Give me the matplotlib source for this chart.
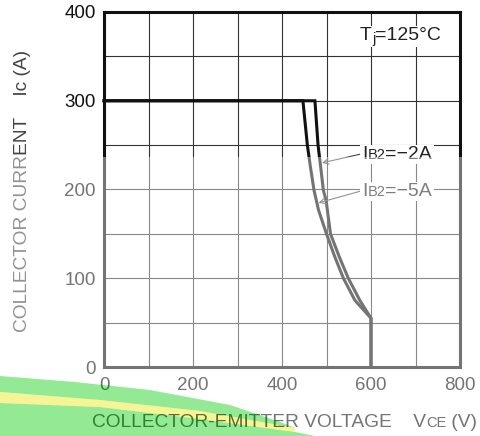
import matplotlib
matplotlib.use("Agg")
import matplotlib.pyplot as plt
from matplotlib.patches import Rectangle, Polygon

plt.rcParams['font.family'] = ['Liberation Sans', 'DejaVu Sans']

# curves
vce_2a = [0, 474, 481, 487, 493, 499, 509, 528, 549, 575, 600, 600]
ic_2a = [300, 300, 250, 225, 199, 188, 150, 125, 100, 75, 55, 0]
vce_5a = [0, 447, 457, 464, 472, 482, 500, 518, 538, 564, 600, 600]
ic_5a = [300, 300, 250, 225, 199, 177, 150, 125, 100, 75, 55, 0]
x_ticks = [0, 200, 400, 600, 800]
y_ticks = [0, 100, 200, 300, 400]

W, H = 480, 436
fig = plt.figure(figsize=(W / 100, H / 100), dpi=100)
ax = fig.add_axes([104 / W, 1 - 367 / H, 356 / W, 355 / H])
ax.set_xlim(0, 800)
ax.set_ylim(0, 400)
ax.set_xticks(x_ticks)
ax.set_yticks(y_ticks)
ax.set_xticks(range(100, 800, 200), minor=True)
ax.set_yticks(range(50, 400, 50), minor=True)
ax.tick_params(which='both', length=0, labelsize=13.5, colors='#111')
ax.tick_params(axis='x', pad=7)
ax.tick_params(axis='y', pad=6)
ax.grid(True, which='both', color='#333', lw=0.8)
for s in ax.spines.values():
    s.set_linewidth(2.2)
    s.set_color('#111')

ax.plot(vce_2a, ic_2a, color='#111', lw=2.2, solid_joinstyle='miter', clip_on=False, zorder=3)
ax.plot(vce_5a, ic_5a, color='#111', lw=2.2, solid_joinstyle='miter', clip_on=False, zorder=3)

fig.canvas.draw()
rend = fig.canvas.get_renderer()


def chain(x, y, parts, color, bg=False, **kw):
    # x, y: pixel position (from top-left) of the baseline start
    x0 = x
    texts = []
    for s, size, dy in parts:
        t = fig.text(x / W, 1 - (y + dy) / H, s, fontsize=size, color=color,
                     va='baseline', ha='left', zorder=4, **kw)
        x = t.get_window_extent(rend).x1
        texts.append(t)
    if bg:
        ys = [t.get_window_extent(rend) for t in texts]
        y0 = min(b.y0 for b in ys) - 1
        y1 = max(b.y1 for b in ys) + 1
        fig.add_artist(Rectangle(((x0 - 2) / W, y0 / H), (x - x0 + 4) / W, (y1 - y0) / H,
                                 transform=fig.transFigure, fc='white', ec='none', zorder=2))
    return texts


# Tj label
chain(360, 40, [('T', 14, 0), ('j', 10.5, 3), ('=125\u00b0C', 14, 0)], '#222', bg=True)

# curve labels with leader arrows
arrow = dict(arrowstyle='->', color='#444', lw=0.8, shrinkA=0, shrinkB=0)
for lab, tip, ybase in [('=\u22122A', (490, 230), 159), ('=\u22125A', (482, 185), 196)]:
    chain(362, ybase, [('I', 14, 0), ('B2', 10.5, 0), (lab, 14, 0)], '#222', bg=True)
    start = ax.transData.inverted().transform((361, H - (ybase - 5)))
    ax.annotate('', xy=tip, xytext=start, arrowprops=arrow)

# axis labels
fig.text(23 / W, 1 - 191 / H, 'COLLECTOR CURRENT    Ic (A)', rotation=90,
         fontsize=13.8, color='#444', ha='center', va='center')
chain(92, 427, [('COLLECTOR-EMITTER VOLTAGE    V', 13.8, 0), ('CE', 10.5, 0), (' (V)', 13.8, 0)], '#111')


def px(pts):
    return [(x / W, 1 - y / H) for x, y in pts]


def add_poly(pts, **kw):
    p = Polygon(px(pts), closed=True, transform=fig.transFigure, ec='none', **kw)
    fig.add_artist(p)
    return p


# swoosh outline (pixels from top-left)
edge = [(0, 376), (75, 382), (150, 390), (230, 405), (280, 422), (315, 436)]
band_top = [(0, 392), (100, 400), (200, 411), (295, 428)]
band_bot = [(0, 403), (100, 407), (200, 419), (295, 432)]

# faded lower part of the scan (everything below the split, outside the swoosh)
add_poly([(0, 157), (W, 157), (W, H)] + edge[::-1], fc='white', alpha=0.42, zorder=10)

# green swoosh with the yellow stripe through it
green = (67 / 255, 218 / 255, 67 / 255)
add_poly(edge[:5] + band_top[::-1], fc=green, alpha=0.57, zorder=11)
add_poly(band_bot + edge[-1:] + [(0, H)], fc=green, alpha=0.57, zorder=11)
add_poly(band_top + band_bot[::-1], fc='#fffcb7', zorder=1)
add_poly(band_top + band_bot[::-1], fc=(230 / 255, 235 / 255, 100 / 255), alpha=0.4, zorder=11)

fig.savefig('out.png', dpi=100)
